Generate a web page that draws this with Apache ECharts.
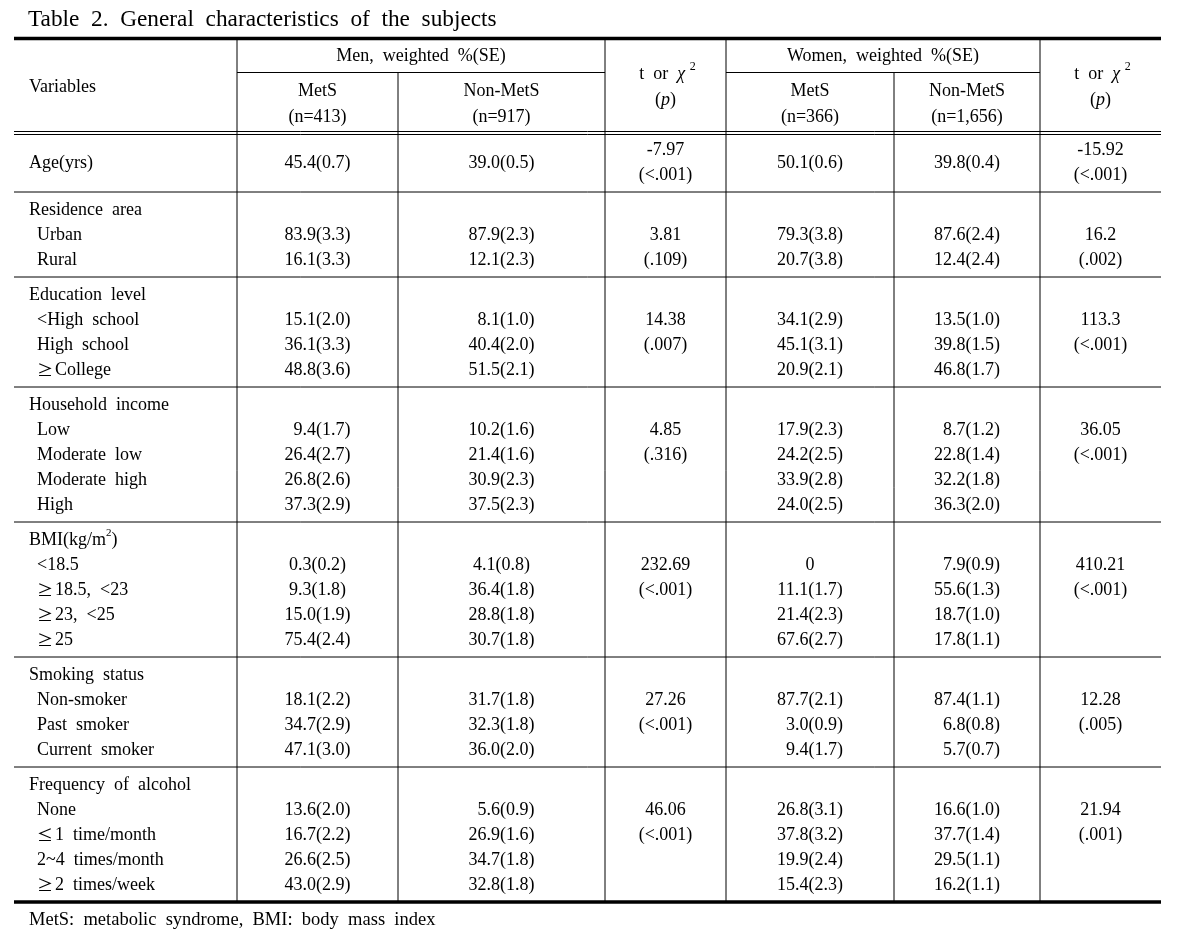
<!DOCTYPE html>
<html>
<head>
<meta charset="utf-8">
<script src="https://cdn.jsdelivr.net/npm/echarts@6/dist/echarts.min.js"></script>
<style>
html,body{margin:0;padding:0;background:#fff;}
#main{width:1185px;height:931px;}
</style>
</head>
<body>
<div id="main"></div>
<script>
// ---------------- data ----------------
const tableTitle = 'Table 2. General characteristics of the subjects';
const footnote = 'MetS: metabolic syndrome, BMI: body mass index';

const colHeaders = ['Variables', 'Men, weighted %(SE)', 'Women, weighted %(SE)'];
const groupHeaders = ['MetS', '(n=413)', 'Non-MetS', '(n=917)', 'MetS', '(n=366)', 'Non-MetS', '(n=1,656)'];

// row kind: 'single' = one tall row, 'group' = section heading, 'item' = sub row
const rowKinds = ['single',
  'group','item','item',
  'group','item','item','item',
  'group','item','item','item','item',
  'group','item','item','item','item',
  'group','item','item','item',
  'group','item','item','item','item'];

const rowLabels = ['Age(yrs)',
  'Residence area','Urban','Rural',
  'Education level','<High school','High school','≥College',
  'Household income','Low','Moderate low','Moderate high','High',
  'BMI(kg/m{sup|2})','<18.5','≥18.5, <23','≥23, <25','≥25',
  'Smoking status','Non-smoker','Past smoker','Current smoker',
  'Frequency of alcohol','None','≤1 time/month','2~4 times/month','≥2 times/week'];

const menMetS = ['45.4(0.7)',
  '','83.9(3.3)','16.1(3.3)',
  '','15.1(2.0)','36.1(3.3)','48.8(3.6)',
  '','  9.4(1.7)','26.4(2.7)','26.8(2.6)','37.3(2.9)',
  '','0.3(0.2)','9.3(1.8)','15.0(1.9)','75.4(2.4)',
  '','18.1(2.2)','34.7(2.9)','47.1(3.0)',
  '','13.6(2.0)','16.7(2.2)','26.6(2.5)','43.0(2.9)'];

const menNonMetS = ['39.0(0.5)',
  '','87.9(2.3)','12.1(2.3)',
  '','  8.1(1.0)','40.4(2.0)','51.5(2.1)',
  '','10.2(1.6)','21.4(1.6)','30.9(2.3)','37.5(2.3)',
  '','4.1(0.8)','36.4(1.8)','28.8(1.8)','30.7(1.8)',
  '','31.7(1.8)','32.3(1.8)','36.0(2.0)',
  '','  5.6(0.9)','26.9(1.6)','34.7(1.8)','32.8(1.8)'];

const menStat = ['-7.97\n(<.001)',
  '','3.81','(.109)',
  '','14.38','(.007)','',
  '','4.85','(.316)','','',
  '','232.69','(<.001)','','',
  '','27.26','(<.001)','',
  '','46.06','(<.001)','',''];

const womenMetS = ['50.1(0.6)',
  '','79.3(3.8)','20.7(3.8)',
  '','34.1(2.9)','45.1(3.1)','20.9(2.1)',
  '','17.9(2.3)','24.2(2.5)','33.9(2.8)','24.0(2.5)',
  '','0','11.1(1.7)','21.4(2.3)','67.6(2.7)',
  '','87.7(2.1)','  3.0(0.9)','  9.4(1.7)',
  '','26.8(3.1)','37.8(3.2)','19.9(2.4)','15.4(2.3)'];

const womenNonMetS = ['39.8(0.4)',
  '','87.6(2.4)','12.4(2.4)',
  '','13.5(1.0)','39.8(1.5)','46.8(1.7)',
  '','  8.7(1.2)','22.8(1.4)','32.2(1.8)','36.3(2.0)',
  '','  7.9(0.9)','55.6(1.3)','18.7(1.0)','17.8(1.1)',
  '','87.4(1.1)','  6.8(0.8)','  5.7(0.7)',
  '','16.6(1.0)','37.7(1.4)','29.5(1.1)','16.2(1.1)'];

const womenStat = ['-15.92\n(<.001)',
  '','16.2','(.002)',
  '','113.3','(<.001)','',
  '','36.05','(<.001)','','',
  '','410.21','(<.001)','','',
  '','12.28','(.005)','',
  '','21.94','(.001)','',''];

// ---------------- layout ----------------
const FONT = 'Liberation Serif';
const SYM_FONT = 'Noto Sans CJK KR';
const FS = 18;
const TABLE_L = 14, TABLE_R = 1161;
const colEdges = [TABLE_L, 237, 398, 605, 726, 894, 1040, TABLE_R];
const LABEL_X = 29, ITEM_X = 37;
const Y_TOP = 38.5, Y_SUB = 72.5, Y_DBL1 = 131.5, Y_DBL2 = 134.5;
const ROW_H = 25, SINGLE_H = 57.5, SECTION_PAD = 10, FIRST_OFF = 18;

const wide = s => s.replace(/ /g, '  ');
const sym = s => s.replace(/([≥≤])/g, '{sym|$1}');
const mid = (a, b) => (a + b) / 2;

// compute row centres and section rules
const rowY = [];
const sepY = [];
let y = Y_DBL2;
let i = 0;
while (i < rowKinds.length) {
  if (rowKinds[i] === 'single') {
    rowY.push(y + SINGLE_H / 2);
    y += SINGLE_H;
    sepY.push(y);
    i++;
  } else {
    let n = 1;
    while (i + n < rowKinds.length && rowKinds[i + n] === 'item') n++;
    for (let k = 0; k < n; k++) rowY.push(y + FIRST_OFF + k * ROW_H);
    y += n * ROW_H + SECTION_PAD;
    sepY.push(y);
    i += n;
  }
}

const cells = [];   // [x, y, align, text]
const valueCols = [menMetS, menNonMetS, menStat, womenMetS, womenNonMetS, womenStat];
const valueColIdx = [1, 2, 3, 4, 5, 6];
rowLabels.forEach((lab, r) => {
  const kind = rowKinds[r];
  cells.push([kind === 'item' ? ITEM_X : LABEL_X, rowY[r], 'left', sym(wide(lab))]);
  valueCols.forEach((arr, c) => {
    const t = arr[r];
    if (!t) return;
    const ci = valueColIdx[c];
    cells.push([mid(colEdges[ci], colEdges[ci + 1]), rowY[r], 'center', t]);
  });
});
// headers
cells.push([LABEL_X, 87, 'left', colHeaders[0]]);
cells.push([mid(colEdges[1], colEdges[3]), 56, 'center', wide(colHeaders[1])]);
cells.push([mid(colEdges[4], colEdges[6]), 56, 'center', wide(colHeaders[2])]);
[1, 2, 4, 5].forEach((ci, k) => {
  cells.push([mid(colEdges[ci], colEdges[ci + 1]), 91, 'center', groupHeaders[2 * k]]);
  cells.push([mid(colEdges[ci], colEdges[ci + 1]), 117, 'center', groupHeaders[2 * k + 1]]);
});
[3, 6].forEach(ci => {
  cells.push([mid(colEdges[ci], colEdges[ci + 1]) + 2, 74, 'center', 't  or  {chi|χ} {sup2|2}']);
  cells.push([mid(colEdges[ci], colEdges[ci + 1]), 100, 'center', '({it|p})']);
});

// rules: [x1, y1, x2, y2, width]
const rules = [];
rules.push([TABLE_L, Y_TOP, TABLE_R, Y_TOP, 3.5]);
rules.push([colEdges[1], Y_SUB, colEdges[3], Y_SUB, 1]);
rules.push([colEdges[4], Y_SUB, colEdges[6], Y_SUB, 1]);
rules.push([TABLE_L, Y_DBL1, TABLE_R, Y_DBL1, 1]);
rules.push([TABLE_L, Y_DBL2, TABLE_R, Y_DBL2, 1]);
sepY.forEach((sy, k) => {
  if (k === sepY.length - 1) rules.push([TABLE_L, sy, TABLE_R, sy, 3.5]);
  else rules.push([TABLE_L, sy, TABLE_R, sy, 1]);
});
const yEnd = sepY[sepY.length - 1];
[1, 3, 4, 6].forEach(ci => rules.push([colEdges[ci], Y_TOP, colEdges[ci], yEnd, 1]));
[2, 5].forEach(ci => rules.push([colEdges[ci], Y_SUB, colEdges[ci], yEnd, 1]));

const richStyles = {
  sup: { fontFamily: FONT, fontSize: 11, verticalAlign: 'top', lineHeight: 20, fill: '#000' },
  sup2: { fontFamily: FONT, fontSize: 12, verticalAlign: 'top', lineHeight: 26, fill: '#000' },
  chi: { fontFamily: FONT, fontSize: FS, fontStyle: 'italic', fill: '#000', lineHeight: 24 },
  it: { fontFamily: FONT, fontSize: FS, fontStyle: 'italic', fill: '#000' },
  sym: { fontFamily: SYM_FONT, fontSize: 16, fill: '#000', padding: [0, 2, 0, 0] }
};

const chart = echarts.init(document.getElementById('main'), null, { renderer: 'canvas' });
chart.setOption({
  animation: false,
  backgroundColor: '#fff',
  title: [
    { text: wide(tableTitle), left: 28, top: 8, padding: 0, textStyle: { fontFamily: FONT, fontSize: 23.3, fontWeight: 'normal', color: '#000' } },
    { text: wide(footnote), left: 29, top: 911, padding: 0, textStyle: { fontFamily: FONT, fontSize: 18.5, fontWeight: 'normal', color: '#000' } }
  ],
  grid: { left: 0, right: 0, top: 0, bottom: 0 },
  xAxis: { type: 'value', min: 0, max: 1185, show: false },
  yAxis: { type: 'value', min: 0, max: 931, inverse: true, show: false },
  series: [
    {
      type: 'custom', name: 'rules', clip: false,
      data: rules,
      renderItem: (params, api) => {
        const p1 = api.coord([api.value(0), api.value(1)]);
        const p2 = api.coord([api.value(2), api.value(3)]);
        return { type: 'line', shape: { x1: p1[0], y1: p1[1], x2: p2[0], y2: p2[1] },
          style: { stroke: '#000', lineWidth: api.value(4) } };
      }
    },
    {
      type: 'custom', name: 'cells', clip: false,
      data: cells.map(c => [c[0], c[1]]),
      renderItem: (params, api) => {
        const c = cells[params.dataIndex];
        const p = api.coord([api.value(0), api.value(1)]);
        return { type: 'text', x: p[0], y: p[1],
          style: { text: c[3], fontFamily: FONT, fontSize: FS, fill: '#000',
            align: c[2], verticalAlign: 'middle', lineHeight: 25, rich: richStyles } };
      }
    }
  ]
});
</script>
</body>
</html>
